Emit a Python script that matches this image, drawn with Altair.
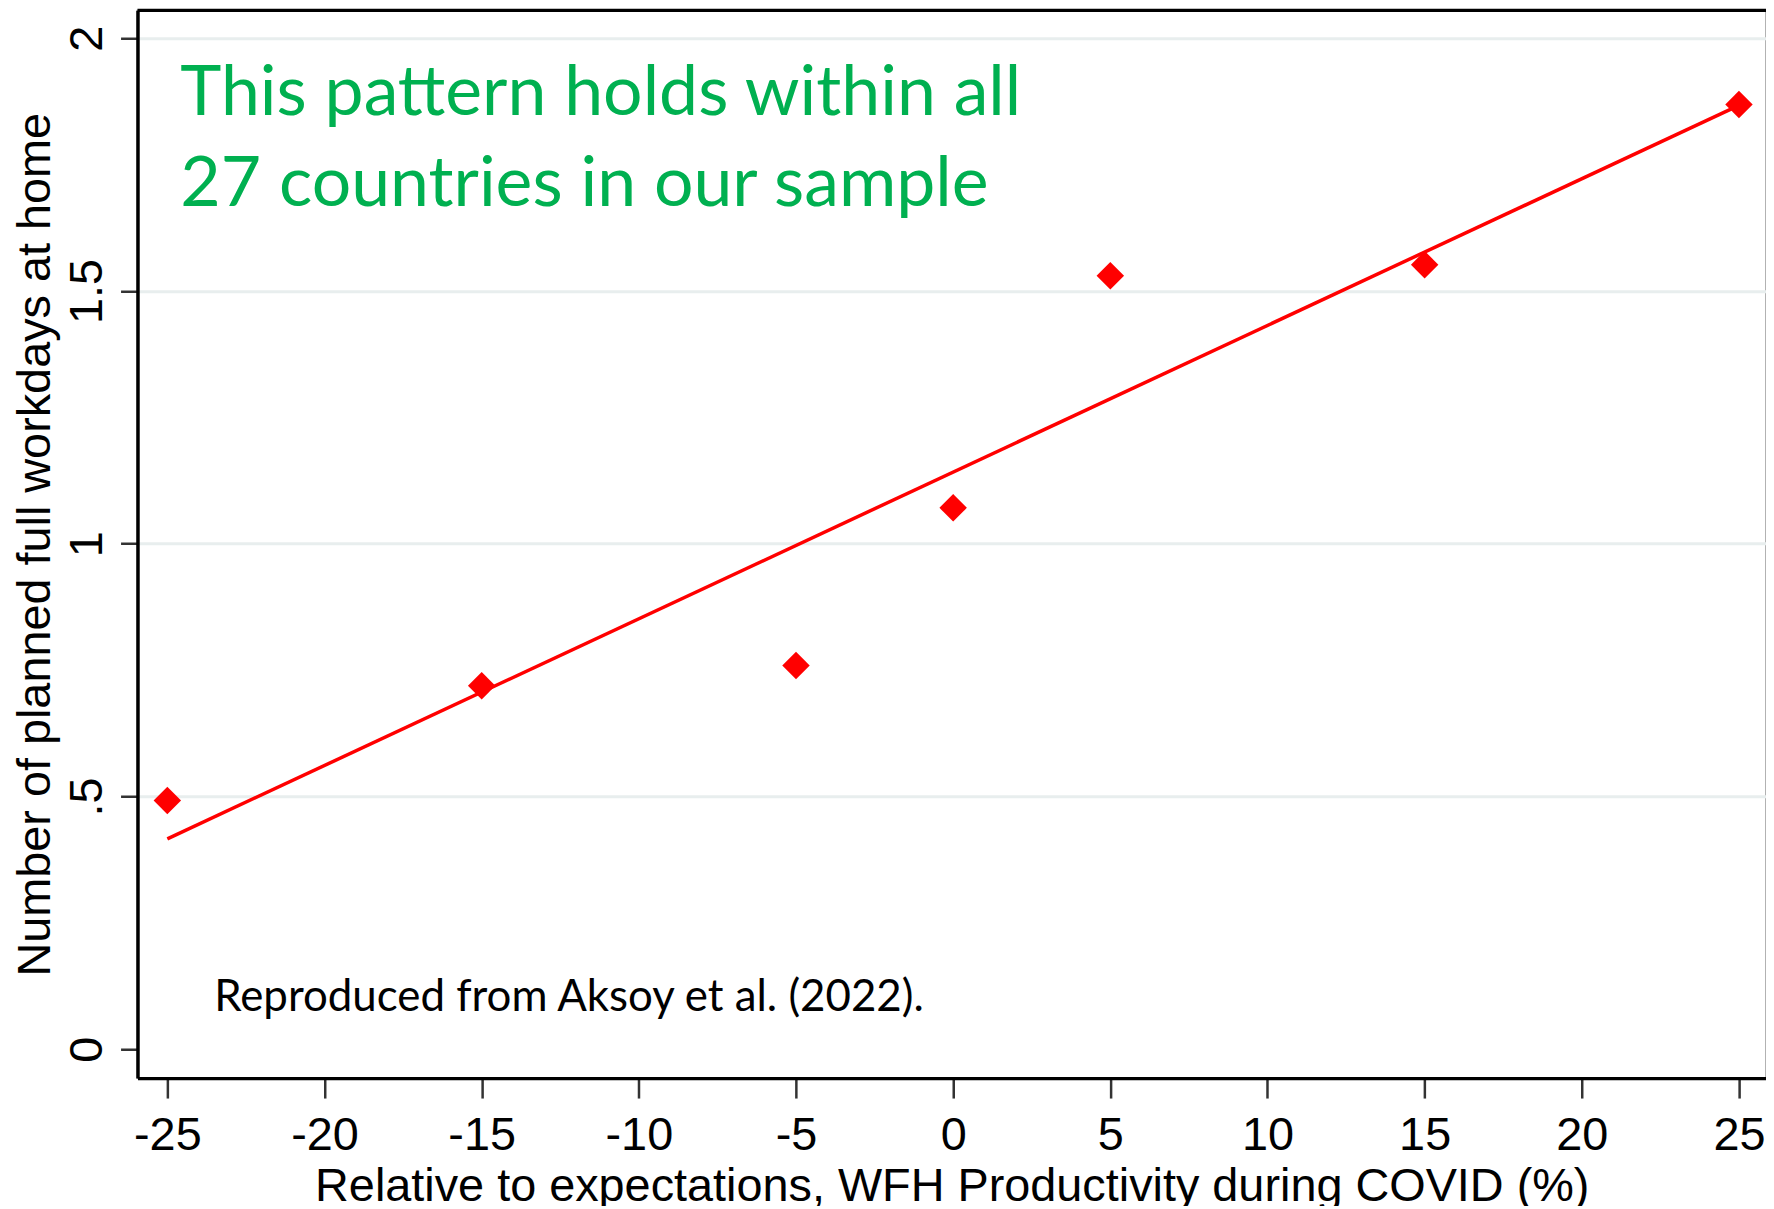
import altair as alt
import pandas as pd

# ---- data ----
x_vals = [-25, -15, -5, 0, 5, 15, 25]
y_vals = [0.492, 0.719, 0.759, 1.071, 1.530, 1.552, 1.869]
x_ticks = [-25, -20, -15, -10, -5, 0, 5, 10, 15, 20, 25]
y_ticks = [0, 0.5, 1, 1.5, 2]
note_lines = ["This pattern holds within all", "27 countries in our sample"]
source_note = "Reproduced from Aksoy et al. (2022)."
x_title = "Relative to expectations, WFH Productivity during COVID (%)"
y_title = "Number of planned full workdays at home"

df = pd.DataFrame({"x": x_vals, "y": y_vals})
one = pd.DataFrame({"k": [0]})

W, H = 1635, 1072
AX_FONT = "Liberation Sans"

xscale = alt.Scale(domain=[-25.95, 25.86], nice=False, zero=False)
yscale = alt.Scale(domain=[-0.057, 2.055], nice=False, zero=False)

x_axis = alt.Axis(
    values=x_ticks, title=x_title, grid=False,
    domainColor="black", domainWidth=3.5,
    tickColor="#333333", tickWidth=2.5, tickSize=20,
    labelFont=AX_FONT, labelFontSize=47, labelColor="black",
    labelBaseline="alphabetic", labelPadding=52, labelFlush=False,
    labelOverlap=False,
    labelExpr="datum.value < 0 ? '-' + abs(datum.value) : '' + datum.value",
    titleFont=AX_FONT, titleFontSize=47, titleFontWeight="normal",
    titleColor="black", titleX=W / 2, titleY=123,
    titleBaseline="alphabetic", titleAlign="center",
)

y_axis = alt.Axis(
    values=y_ticks, title=y_title, grid=True,
    gridColor="#E8EEEE", gridWidth=3,
    gridOpacity={"condition": {"test": "datum.value == 0", "value": 0}, "value": 1},
    domainColor="black", domainWidth=3.5,
    tickColor="#333333", tickWidth=2.5, tickSize=17,
    labelFont=AX_FONT, labelFontSize=47, labelColor="black",
    labelAngle=270, labelAlign="center", labelBaseline="alphabetic",
    labelPadding=19, labelFlush=False, labelOverlap=False,
    labelExpr="datum.value == 0.5 ? '.5' : '' + datum.value",
    titleFont=AX_FONT, titleFontSize=47, titleFontWeight="normal",
    titleColor="black", titleAngle=270, titleX=-88, titleY=H / 2,
    titleBaseline="alphabetic", titleAlign="center",
)

base = alt.Chart(df)

fit = base.transform_regression("x", "y").mark_line(
    color="#FF0000", strokeWidth=3.5
).encode(
    x=alt.X("x:Q", scale=xscale, axis=x_axis),
    y=alt.Y("y:Q", scale=yscale, axis=y_axis),
)

pts = base.mark_point(
    shape="diamond", filled=True, color="#FF0000", size=760, opacity=1
).encode(
    x=alt.X("x:Q", scale=xscale),
    y=alt.Y("y:Q", scale=yscale),
)

top_frame = alt.Chart(one).mark_rule(color="black", strokeWidth=3.5).encode(
    x=alt.value(0), x2=alt.value(W), y=alt.value(0)
)

green = alt.Chart(one).mark_text(
    align="left", baseline="alphabetic", font="Lato", fontSize=70,
    color="#00B050", lineHeight=91
).encode(x=alt.value(43), y=alt.value(105), text=alt.value(note_lines))

source = alt.Chart(one).mark_text(
    align="left", baseline="alphabetic", font="Lato", fontSize=44,
    color="black"
).encode(x=alt.value(77), y=alt.value(1005), text=alt.value(source_note))

chart = alt.layer(fit, pts, top_frame, green, source).properties(
    width=W, height=H,
    autosize=alt.AutoSizeParams(type="none"),
    padding={"left": 130, "top": 0, "right": 0, "bottom": 126},
    background="white",
).configure_view(stroke="#999999", strokeWidth=1.5)

chart.save("out.html", embed_options={"renderer": "svg", "actions": False})
